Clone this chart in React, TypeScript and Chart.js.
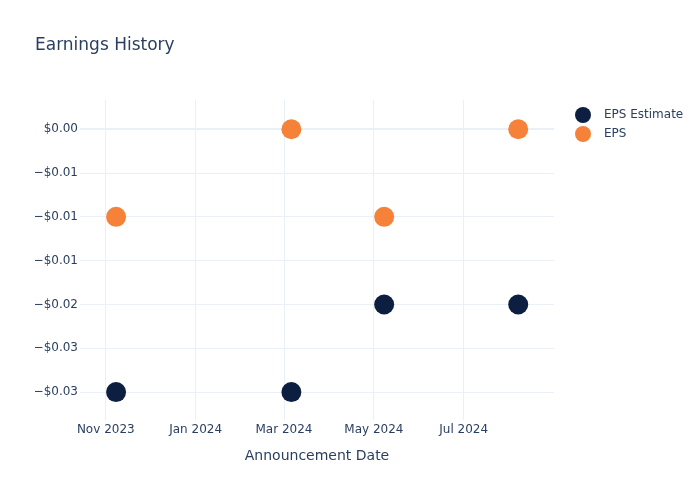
import React, { useEffect, useRef } from "react";
import { Chart, registerables } from "chart.js";

Chart.register(...registerables);

const titleText = "Earnings History";
const xAxisTitle = "Announcement Date";
const seriesNames = ["EPS Estimate", "EPS"];
const seriesColors = ["#0c1f40", "#f6823a"];
const announceDates = ["2023-11-08", "2024-03-06", "2024-05-08", "2024-08-07"];
const epsEstimate = [-0.03, -0.03, -0.02, -0.02];
const epsActual = [-0.01, 0.0, -0.01, 0.0];
const xTickDates = ["2023-11-01", "2024-01-01", "2024-03-01", "2024-05-01", "2024-07-01"];
const xTickLabels = ["Nov 2023", "Jan 2024", "Mar 2024", "May 2024", "Jul 2024"];
const yTickValues = [0, -0.005, -0.01, -0.015, -0.02, -0.025, -0.03];
const yTickLabels = ["$0.00", "\u2212$0.01", "\u2212$0.01", "\u2212$0.01", "\u2212$0.02", "\u2212$0.03", "\u2212$0.03"];
const xRange = ["2023-10-14T12:00:00Z", "2024-08-31T07:00:00Z"];
const yRange = [-0.03319, 0.00334];

const FONT = "'DejaVu Sans', sans-serif";
const TEXT = "#2a3f5f";
const GRID = "#ebf0f8";

const ts = (d: string) => Date.parse(d.length === 10 ? d + "T00:00:00Z" : d);

const legendPlugin = {
  id: "customLegend",
  afterDraw(chart: any) {
    const ctx = chart.ctx;
    ctx.save();
    chart.data.datasets.forEach((ds: any, i: number) => {
      const y = 115 + i * 19;
      ctx.beginPath();
      ctx.arc(583, y, 8, 0, Math.PI * 2);
      ctx.fillStyle = ds.backgroundColor;
      ctx.fill();
      ctx.font = "12px " + FONT;
      ctx.fillStyle = TEXT;
      ctx.textAlign = "left";
      ctx.textBaseline = "middle";
      ctx.fillText(ds.label, 604, y);
    });
    ctx.restore();
  },
};

export default function App() {
  const ref = useRef<HTMLCanvasElement>(null);
  useEffect(() => {
    if (!ref.current) return;
    const xs = announceDates.map(ts);
    const chart = new Chart(ref.current, {
      type: "scatter",
      data: {
        datasets: [
          {
            label: seriesNames[0],
            data: xs.map((x, i) => ({ x, y: epsEstimate[i] })),
            backgroundColor: seriesColors[0],
            borderColor: seriesColors[0],
            pointRadius: 10,
            borderWidth: 0,
          },
          {
            label: seriesNames[1],
            data: xs.map((x, i) => ({ x, y: epsActual[i] })),
            backgroundColor: seriesColors[1],
            borderColor: seriesColors[1],
            pointRadius: 10,
            borderWidth: 0,
          },
        ],
      },
      options: {
        animation: false,
        responsive: false,
        maintainAspectRatio: false,
        layout: { padding: { left: 35, top: 0, right: 146, bottom: 0 } },
        plugins: {
          legend: { display: false },
          tooltip: { enabled: false },
          title: {
            display: true,
            text: titleText,
            align: "start",
            color: TEXT,
            font: { family: FONT, size: 17, weight: "normal" },
            padding: { top: 35, bottom: 44.6 },
          },
        },
        scales: {
          x: {
            type: "linear",
            min: ts(xRange[0]),
            max: ts(xRange[1]),
            afterFit(scale: any) {
              scale.height = 80;
            },
            afterBuildTicks(scale: any) {
              scale.ticks = xTickDates.map((d) => ({ value: ts(d) }));
            },
            ticks: {
              autoSkip: false,
              maxRotation: 0,
              padding: 3,
              color: TEXT,
              font: { family: FONT, size: 12 },
              callback: (v: any) => {
                const idx = xTickDates.findIndex((d) => ts(d) === v);
                return idx >= 0 ? xTickLabels[idx] : "";
              },
            },
            grid: { color: GRID, lineWidth: 1, drawTicks: false },
            border: { display: false },
            title: {
              display: true,
              text: xAxisTitle,
              color: TEXT,
              font: { family: FONT, size: 14 },
              padding: { top: 0, bottom: 35 },
            },
          },
          y: {
            type: "linear",
            min: yRange[0],
            max: yRange[1],
            afterFit(scale: any) {
              scale.width = 45;
            },
            afterBuildTicks(scale: any) {
              scale.ticks = yTickValues.map((v) => ({ value: v }));
            },
            ticks: {
              autoSkip: false,
              padding: 2,
              color: TEXT,
              font: { family: FONT, size: 12 },
              callback: (v: any) => {
                const idx = yTickValues.findIndex((t) => Math.abs(t - v) < 1e-9);
                return idx >= 0 ? yTickLabels[idx] : "";
              },
            },
            grid: {
              color: GRID,
              lineWidth: (c: any) => (c.tick && Math.abs(c.tick.value) < 1e-9 ? 2 : 1),
              drawTicks: false,
            },
            border: { display: false },
          },
        },
      } as any,
      plugins: [legendPlugin],
    });
    return () => chart.destroy();
  }, []);
  return (
    <div style={{ position: "fixed", left: 0, top: 0, width: 700, height: 500, background: "#fff" }}>
      <canvas ref={ref} width={700} height={500} style={{ width: 700, height: 500 }} />
    </div>
  );
}
